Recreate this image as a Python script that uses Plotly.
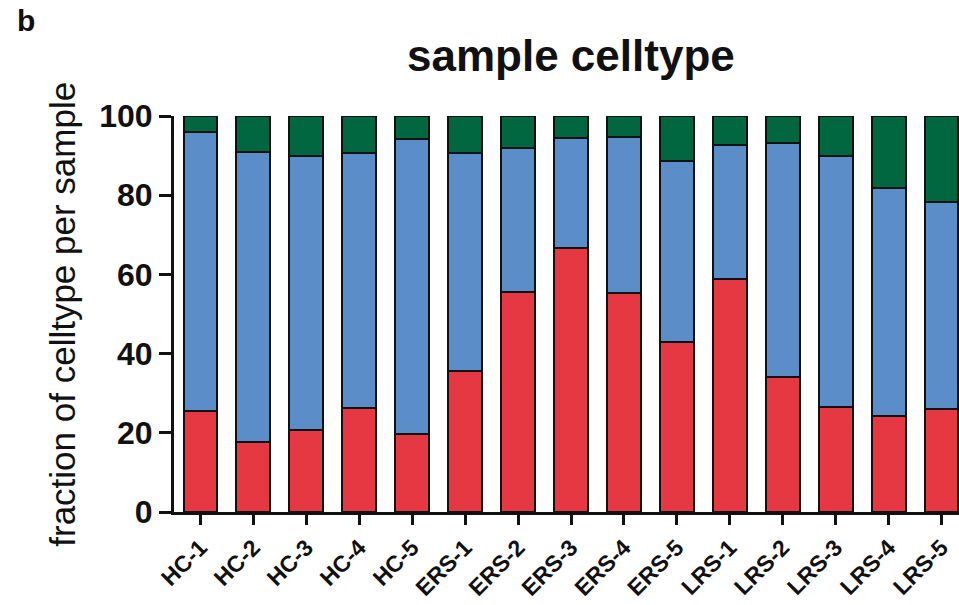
import plotly.graph_objects as go

samples = ["HC-1", "HC-2", "HC-3", "HC-4", "HC-5",
           "ERS-1", "ERS-2", "ERS-3", "ERS-4", "ERS-5",
           "LRS-1", "LRS-2", "LRS-3", "LRS-4", "LRS-5"]
red_vals = [25.4, 17.6, 20.8, 26.3, 19.8, 35.7, 55.6, 66.7, 55.4, 42.9,
            58.9, 34.0, 26.4, 24.3, 26.1]
blue_vals = [70.6, 73.3, 69.0, 64.3, 74.5, 54.9, 36.3, 27.7, 39.4, 45.8,
             33.7, 59.2, 63.6, 57.5, 52.2]
green_vals = [4.0, 9.1, 10.2, 9.4, 5.7, 9.4, 8.1, 5.6, 5.2, 11.3,
              7.4, 6.8, 10.0, 18.2, 21.7]
y_ticks = [0, 20, 40, 60, 80, 100]

series = [("red", red_vals, "#E63843"),
          ("blue", blue_vals, "#5B8DC9"),
          ("green", green_vals, "#016741")]

FONT = "Liberation Sans, Arial, Helvetica, sans-serif"

fig = go.Figure()
for name, vals, col in series:
    fig.add_trace(go.Bar(
        x=samples, y=vals, name=name, width=0.64,
        marker=dict(color=col, line=dict(color="#111111", width=2)),
    ))

fig.update_layout(
    barmode="stack",
    width=959, height=605,
    margin=dict(l=174, r=0, t=116, b=93),
    paper_bgcolor="white", plot_bgcolor="white",
    showlegend=False,
    font=dict(family=FONT, color="#111111"),
)
fig.update_xaxes(
    type="category", range=[-0.5, 14.33], automargin=False,
    showline=True, linecolor="#111111", linewidth=3,
    ticks="outside", ticklen=10, tickwidth=3, tickcolor="#111111",
    tickangle=-45, showgrid=False, zeroline=False,
    tickfont=dict(family=FONT, size=23, weight="bold", color="#111111"),
)
fig.update_yaxes(
    range=[0, 100], tickvals=y_ticks, automargin=False,
    showline=True, linecolor="#111111", linewidth=3,
    ticks="outside", ticklen=12, tickwidth=3, tickcolor="#111111",
    showgrid=False, zeroline=False,
    tickfont=dict(family=FONT, size=32, weight="bold", color="#111111"),
)
fig.add_annotation(
    text="sample celltype", xref="paper", yref="paper",
    x=0.506, y=1.152, xanchor="center", yanchor="middle", showarrow=False,
    font=dict(family=FONT, size=44, weight="bold", color="#111111"),
)
fig.add_annotation(
    text="b", xref="paper", yref="paper",
    x=-0.1885, y=1.242, xanchor="center", yanchor="middle", showarrow=False,
    font=dict(family=FONT, size=30, weight="bold", color="#111111"),
)
fig.add_annotation(
    text="fraction of celltype per sample", xref="paper", yref="paper",
    x=-0.143, y=0.5, xanchor="center", yanchor="middle", showarrow=False,
    textangle=-90,
    font=dict(family=FONT, size=35, color="#111111"),
)
fig.write_html("out.html",
               config={"displayModeBar": False},
               post_script="document.body.style.margin='0';document.body.style.overflow='hidden';")
